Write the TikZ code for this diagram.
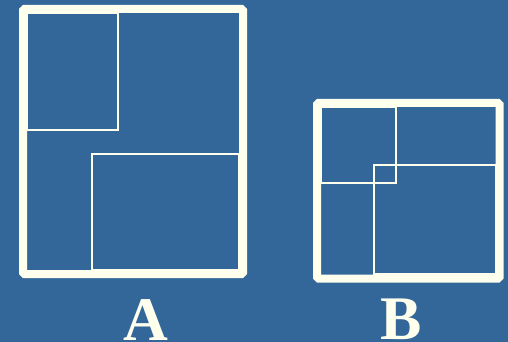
\documentclass[tikz,border=0pt]{standalone}
\usepackage{fontspec}
\setmainfont{Liberation Serif}
\definecolor{bg}{RGB}{51,103,153}
\definecolor{ink}{RGB}{255,255,238}
\begin{document}
\begin{tikzpicture}[x=1pt,y=-1pt,
  frame/.style={draw=ink,line width=8pt,rounded corners=1.5pt},
  part/.style={draw=ink,line width=2pt},
  lbl/.style={text=ink,font=\fontsize{62}{62}\selectfont\bfseries,anchor=base,inner sep=0pt}]
\fill[bg] (0,0) rectangle (508,342);
\useasboundingbox (0,0) rectangle (508,342);
% A
\draw[part] (27,13) rectangle (118,130);
\draw[part] (92,154) rectangle (239,270);
\draw[frame] (23,9) rectangle (243,274);
\node[lbl] (la) at (146,340) {A};
% B
\draw[part] (321,107) rectangle (396,183);
\draw[part] (374,165) rectangle (496,274);
\draw[frame] (317,103) rectangle (499.5,278.5);
\node[lbl] (lb) at (401,339) {B};
\end{tikzpicture}
\end{document}
